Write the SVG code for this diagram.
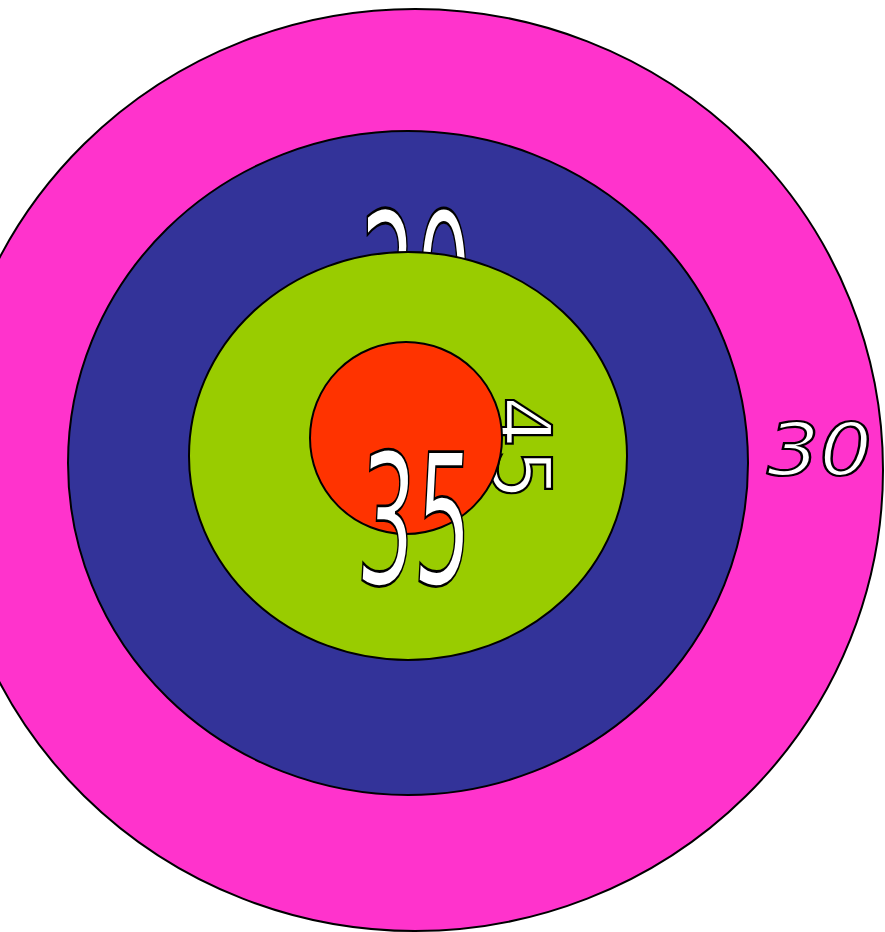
<svg xmlns="http://www.w3.org/2000/svg" width="885" height="932" viewBox="0 0 885 932">
<style>
.ring{stroke:#000;stroke-width:2}
.lbl{font-family:"DejaVu Sans",sans-serif;fill:#fff;stroke:#000;stroke-width:2.2}
</style>
<rect width="885" height="932" fill="#fff"/>
<g id="ring30">
<ellipse class="ring" cx="415" cy="470" rx="468" ry="461" fill="#ff33cc"/>
<text class="lbl" transform="translate(767,475) scale(1.13,1)" font-size="73" font-style="italic">30</text>
</g>
<g id="ring20">
<ellipse class="ring" cx="408" cy="463" rx="340" ry="332" fill="#333399"/>
<text class="lbl" transform="translate(416,344) scale(1.12,2.36)" text-anchor="middle" font-size="78" vector-effect="non-scaling-stroke">20</text>
</g>
<g id="ring45">
<ellipse class="ring" cx="408" cy="456" rx="219" ry="204" fill="#99cc00"/>
<text class="lbl" transform="translate(492,396) rotate(90)" font-size="82" stroke-width="2.6">45</text>
</g>
<g id="ring35">
<circle class="ring" cx="406" cy="438" r="96" fill="#ff3300"/>
<text class="lbl" transform="translate(412,584) skewX(-3) scale(1.15,2.33)" text-anchor="middle" font-size="78" vector-effect="non-scaling-stroke">35</text>
</g>
<g id="connectors"></g>
</svg>
